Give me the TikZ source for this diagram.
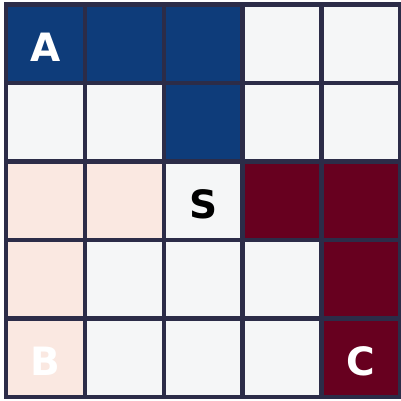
\documentclass[tikz,border=0pt]{standalone}
\usepackage{fontspec}
\setmainfont{DejaVu Sans}
\usetikzlibrary{positioning}
\definecolor{deepblue}{RGB}{14,60,122}
\definecolor{deepred}{RGB}{103,0,31}
\definecolor{blush}{RGB}{250,232,225}
\definecolor{paper}{RGB}{245,246,247}
\definecolor{gridink}{RGB}{44,44,72}
\tikzset{
  cell/.style={draw=gridink,line width=4.5pt,minimum width=78.9pt,minimum height=78.5pt,
    inner sep=0pt,outer sep=0pt,text height=36pt,text depth=0pt,
    font=\fontsize{39}{39}\selectfont\bfseries},
  W/.style={cell,fill=paper,text=black}, U/.style={cell,fill=deepblue,text=white},
  R/.style={cell,fill=deepred,text=white}, P/.style={cell,fill=blush,text=white},
}
\begin{document}
\begin{tikzpicture}[x=1pt,y=1pt,node distance=0pt]
    \useasboundingbox (0,0) rectangle (401,400);
    % row 1
    \node[U] (a1) at (45.45,356.25) {A};
    \node[U,right=of a1] (a2) {};
    \node[U,right=of a2] (a3) {};
    \node[W,right=of a3] (a4) {};
    \node[W,right=of a4] (a5) {};
    % row 2
    \node[W,below=of a1] (b1) {};
    \node[W,right=of b1] (b2) {};
    \node[U,right=of b2] (b3) {};
    \node[W,right=of b3] (b4) {};
    \node[W,right=of b4] (b5) {};
    % row 3
    \node[P,below=of b1] (c1) {};
    \node[P,right=of c1] (c2) {};
    \node[W,right=of c2] (c3) {S};
    \node[R,right=of c3] (c4) {};
    \node[R,right=of c4] (c5) {};
    % row 4
    \node[P,below=of c1] (d1) {};
    \node[W,right=of d1] (d2) {};
    \node[W,right=of d2] (d3) {};
    \node[W,right=of d3] (d4) {};
    \node[R,right=of d4] (d5) {};
    % row 5
    \node[P,below=of d1] (e1) {B};
    \node[W,right=of e1] (e2) {};
    \node[W,right=of e2] (e3) {};
    \node[W,right=of e3] (e4) {};
    \node[R,right=of e4] (e5) {C};
  \end{tikzpicture}
\end{document}
